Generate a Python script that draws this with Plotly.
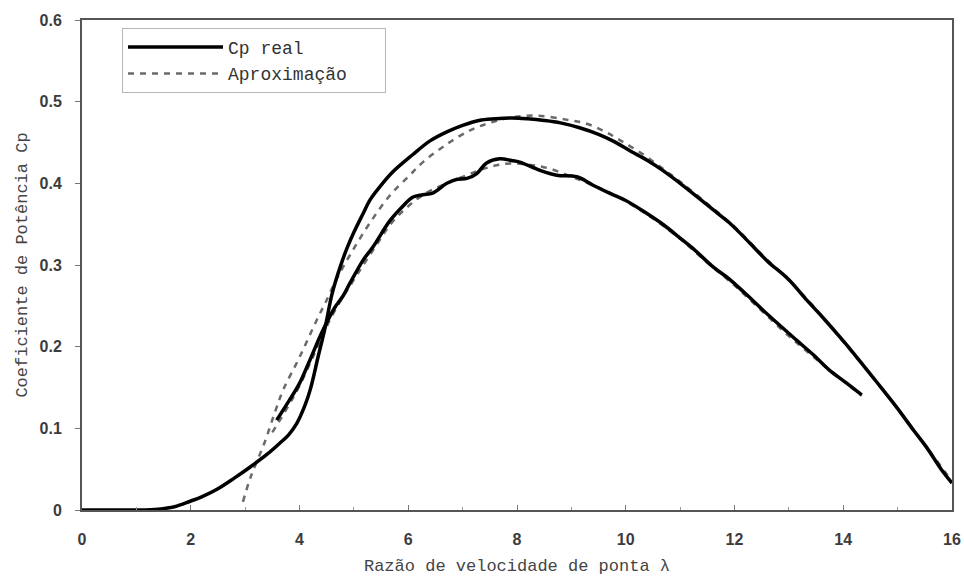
import plotly.graph_objects as go

# Cp real (outer curve)
real1_x = [0.0, 0.5, 1.0, 1.4, 1.7, 2.0, 2.2, 2.5, 2.8, 3.1, 3.4, 3.64, 3.8, 3.95, 4.1, 4.2, 4.34, 4.47,
           4.6, 4.75, 4.87, 5.0, 5.17, 5.3, 5.48, 5.7, 6.08, 6.4, 6.71, 7.0, 7.3, 7.6, 7.92, 8.2, 8.5,
           8.8, 9.15, 9.5, 9.76, 10.1, 10.4, 10.7, 11.0, 11.36, 11.6, 11.9, 12.28, 12.6, 13.0, 13.33,
           13.62, 14.0, 14.25, 14.6, 14.98, 15.3, 15.53, 15.8, 16.0]
real1_y = [0.0, 0.0, 0.0, 0.001, 0.004, 0.011, 0.016, 0.026, 0.039, 0.053, 0.068, 0.082, 0.092, 0.106,
           0.128, 0.148, 0.187, 0.223, 0.265, 0.298, 0.32, 0.34, 0.363, 0.38, 0.396, 0.413, 0.435, 0.452,
           0.463, 0.471, 0.477, 0.479, 0.48, 0.479, 0.477, 0.474, 0.468, 0.46, 0.452, 0.439, 0.428,
           0.415, 0.40, 0.381, 0.368, 0.352, 0.327, 0.305, 0.282, 0.257, 0.236, 0.207, 0.187, 0.158,
           0.126, 0.097, 0.077, 0.05, 0.033]

# Cp real (inner curve)
real2_x = [3.58, 3.8, 4.0, 4.2, 4.43, 4.65, 4.8, 4.93, 5.17, 5.35, 5.66, 5.9, 6.08, 6.27, 6.45, 6.71,
           6.9, 7.08, 7.26, 7.44, 7.68, 7.9, 8.05, 8.42, 8.73, 9.1, 9.39, 9.7, 10.0, 10.39, 10.7, 11.0,
           11.24, 11.6, 11.9, 12.2, 12.52, 12.8, 13.14, 13.45, 13.75, 14.05, 14.34]
real2_y = [0.11, 0.133, 0.155, 0.185, 0.22, 0.248, 0.262, 0.278, 0.306, 0.322, 0.354, 0.372, 0.383,
           0.386, 0.388, 0.40, 0.405, 0.406, 0.412, 0.425, 0.43, 0.428, 0.426, 0.416, 0.41, 0.408,
           0.398, 0.388, 0.379, 0.363, 0.349, 0.333, 0.32, 0.298, 0.283, 0.265, 0.245, 0.228, 0.208,
           0.19, 0.171, 0.156, 0.141]

# Aproximação (outer curve)
aprox1_x = [2.96, 3.1, 3.36, 3.55, 3.7, 4.0, 4.32, 4.47, 4.7, 4.98, 5.29, 5.66, 6.03, 6.27, 6.71, 7.08,
            7.32, 7.6, 7.92, 8.36, 8.9, 9.28, 9.6, 9.89, 10.26, 10.7, 11.0, 11.5, 12.0, 12.5, 13.0,
            13.5, 14.0, 14.5, 15.0, 15.5, 16.0]
aprox1_y = [0.01, 0.04, 0.083, 0.12, 0.147, 0.187, 0.233, 0.253, 0.285, 0.318, 0.351, 0.385, 0.41,
            0.426, 0.448, 0.463, 0.47, 0.476, 0.481, 0.483, 0.478, 0.473, 0.464, 0.453, 0.438, 0.417,
            0.402, 0.375, 0.347, 0.313, 0.281, 0.246, 0.206, 0.166, 0.124, 0.08, 0.035]

# Aproximação (inner curve)
aprox2_x = [3.5, 3.8, 4.0, 4.3, 4.6, 5.0, 5.4, 5.7, 6.0, 6.3, 6.6, 7.0, 7.4, 7.8, 8.2, 8.6, 9.0, 9.5,
            10.0, 10.5, 11.0, 11.5, 12.0, 12.5, 13.0, 13.5, 14.0, 14.34]
aprox2_y = [0.095, 0.128, 0.152, 0.195, 0.238, 0.282, 0.323, 0.352, 0.372, 0.387, 0.397, 0.408, 0.418,
            0.424, 0.423, 0.418, 0.408, 0.395, 0.378, 0.357, 0.332, 0.303, 0.275, 0.244, 0.213, 0.185,
            0.158, 0.14]

x_ticks = [0, 2, 4, 6, 8, 10, 12, 14, 16]
y_ticks = [0, 0.1, 0.2, 0.3, 0.4, 0.5, 0.6]
y_tick_labels = ["0", "0.1", "0.2", "0.3", "0.4", "0.5", "0.6"]

NBSP = "\u00a0"
dash_style = dict(color="#6a6a6a", width=2.5, dash="6px,6px")
solid_style = dict(color="black", width=3.5)

fig = go.Figure()
fig.add_trace(go.Scatter(x=aprox2_x, y=aprox2_y, mode="lines", line=dash_style,
                         showlegend=False, line_shape="spline"))
fig.add_trace(go.Scatter(x=aprox1_x, y=aprox1_y, mode="lines", line=dash_style,
                         name="Aproximação" + NBSP * 3, showlegend=True, legendrank=2,
                         line_shape="spline"))
fig.add_trace(go.Scatter(x=real2_x, y=real2_y, mode="lines", line=solid_style,
                         showlegend=False, line_shape="spline"))
fig.add_trace(go.Scatter(x=real1_x, y=real1_y, mode="lines", line=solid_style,
                         name="Cp real", showlegend=True, legendrank=1, line_shape="spline"))

title_font = dict(family="Liberation Mono", size=17, color="#444")
tick_font = dict(family="Liberation Sans", size=16, color="#3c3c3c", weight="bold")

fig.update_layout(
    width=964, height=576,
    margin=dict(l=82, r=12, t=20, b=66, autoexpand=False),
    paper_bgcolor="white", plot_bgcolor="white",
    legend=dict(x=0.046, y=0.984, xanchor="left", yanchor="top",
                bordercolor="#b5b5b5", borderwidth=1, bgcolor="white",
                font=dict(family="Liberation Mono", size=18, color="#333"),
                itemwidth=95, traceorder="normal"),
    xaxis=dict(range=[0, 16], tickvals=x_ticks, showgrid=False, zeroline=False, automargin=False,
               showline=True, linecolor="#555", linewidth=2, mirror=True,
               ticks="inside", ticklen=5, tickcolor="#777", tickfont=tick_font,
               ticklabelstandoff=14,
               minor=dict(dtick=1, ticks="inside", ticklen=3, tickcolor="#999"),
               title=dict(text="Razão de velocidade de ponta λ", font=title_font, standoff=12)),
    yaxis=dict(range=[0, 0.6], tickvals=y_ticks, ticktext=y_tick_labels, showgrid=False,
               zeroline=False, showline=True, linecolor="#555", linewidth=2, mirror=True,
               automargin=False,
               ticks="outside", ticklen=5, tickcolor="#777", tickfont=tick_font,
               ticklabelstandoff=10,
               title=dict(text="Coeficiente de Potência Cp", font=title_font, standoff=8)),
)

fig.write_html("out.html", config={"displayModeBar": False},
               post_script="document.body.style.margin='0';document.body.style.overflow='hidden';")
